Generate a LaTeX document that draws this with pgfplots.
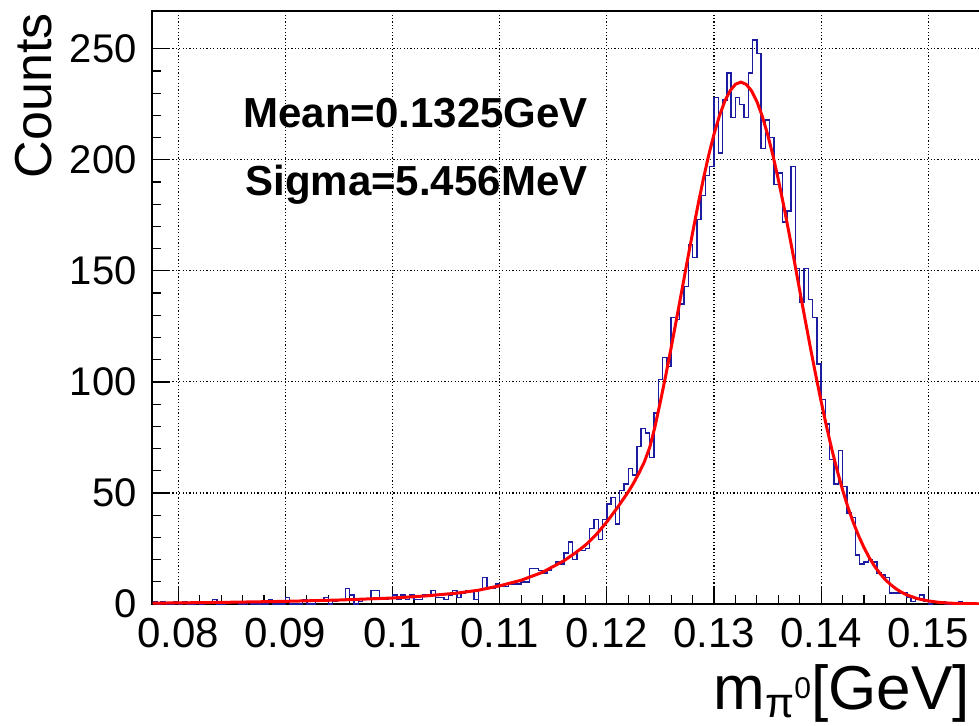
\documentclass[border=0pt]{standalone}
\usepackage{pgfplots}
\pgfplotsset{compat=1.18}
\usepackage{pgfplotstable}
\usepackage{fontspec}
\setmainfont{Liberation Sans}
\definecolor{histblue}{RGB}{28,28,160}
\definecolor{fitred}{RGB}{255,0,0}
\pgfplotstableread{
x y
0.0776 1
0.0780 0
0.0784 1
0.0788 0
0.0792 0
0.0796 1
0.0800 0
0.0804 1
0.0808 0
0.0812 0
0.0816 1
0.0820 0
0.0824 1
0.0828 1
0.0832 2
0.0836 0
0.0840 0
0.0844 1
0.0848 1
0.0852 1
0.0856 0
0.0860 0
0.0864 1
0.0868 0
0.0872 0
0.0876 0
0.0880 0
0.0884 2
0.0888 0
0.0892 0
0.0896 0
0.0900 3
0.0904 0
0.0908 0
0.0912 0
0.0916 2
0.0920 0
0.0924 0
0.0928 2
0.0932 1
0.0936 3
0.0940 0
0.0944 1
0.0948 2
0.0952 2
0.0956 7
0.0960 4
0.0964 0
0.0968 1
0.0972 2
0.0976 2
0.0980 6
0.0984 6
0.0988 2
0.0992 2
0.0996 3
0.1000 4
0.1004 2
0.1008 4
0.1012 2
0.1016 4
0.1020 2
0.1024 2
0.1028 4
0.1032 4
0.1036 6
0.1040 3
0.1044 3
0.1048 2
0.1052 4
0.1056 6
0.1060 3
0.1064 5
0.1068 6
0.1072 6
0.1076 2
0.1080 6
0.1084 12
0.1088 7
0.1092 7
0.1096 9
0.1100 8
0.1104 8
0.1108 9
0.1112 9
0.1116 9
0.1120 10
0.1124 10
0.1128 16
0.1132 16
0.1136 15
0.1140 14
0.1144 15
0.1148 17
0.1152 19
0.1156 18
0.1160 23
0.1164 28
0.1168 20
0.1172 24
0.1176 24
0.1180 25
0.1184 34
0.1188 38
0.1192 29
0.1196 38
0.1200 45
0.1204 48
0.1208 36
0.1212 51
0.1216 54
0.1220 61
0.1224 58
0.1228 71
0.1232 79
0.1236 77
0.1240 66
0.1244 86
0.1248 101
0.1252 111
0.1256 107
0.1260 129
0.1264 128
0.1268 135
0.1272 143
0.1276 162
0.1280 156
0.1284 173
0.1288 184
0.1292 193
0.1296 197
0.1300 228
0.1304 203
0.1308 227
0.1312 239
0.1316 219
0.1320 228
0.1324 225
0.1328 219
0.1332 239
0.1336 254
0.1340 248
0.1344 205
0.1348 218
0.1352 210
0.1356 189
0.1360 194
0.1364 172
0.1368 177
0.1372 197
0.1376 151
0.1380 136
0.1384 151
0.1388 137
0.1392 129
0.1396 108
0.1400 92
0.1404 81
0.1408 65
0.1412 54
0.1416 69
0.1420 53
0.1424 41
0.1428 39
0.1432 22
0.1436 18
0.1440 19
0.1444 20
0.1448 19
0.1452 14
0.1456 13
0.1460 12
0.1464 5
0.1468 5
0.1472 5
0.1476 5
0.1480 3
0.1484 1
0.1488 2
0.1492 4
0.1496 1
0.1500 0
0.1504 1
0.1508 1
0.1512 1
0.1516 0
0.1520 0
0.1524 0
0.1528 1
0.1532 0
0.1536 0
0.1540 0
0.1544 0
0.1548 0
}\hist
\begin{document}
\begin{tikzpicture}
\begin{axis}[name=ax, scale only axis,
  width=414.5pt, height=296.5pt,
  xmin=0.077545, xmax=0.154921, ymin=0, ymax=267,
  xtick={0.08,0.09,0.1,0.11,0.12,0.13,0.14,0.15},
  xticklabels={0.08,0.09,0.1,0.11,0.12,0.13,0.14,0.15},
  ytick={0,50,100,150,200,250},
  yticklabels={0,50,100,150,200,250},
  minor x tick num=4, minor y tick num=4,
  tick align=inside, xtick pos=left, ytick pos=left,
  major tick length=9pt, minor tick length=4.5pt,
  grid=major,
  major grid style={black, line width=0.55pt, dash pattern=on 0.6pt off 1.1pt},
  axis line style={black, line width=0.75pt},
  every tick/.style={black, line width=0.6pt},
  xticklabel style={font=\fontsize{21}{21}\selectfont, inner sep=0pt, anchor=north, yshift=-7pt},
  yticklabel style={font=\fontsize{20}{20}\selectfont, inner sep=0pt, anchor=east, xshift=-7.5pt},
]
\addplot[const plot, histblue, line width=0.7pt] table[x=x, y=y] {\hist};
\addplot[fitred, line width=1.5pt, line join=round] coordinates {
(0.0776,0.4) (0.080,0.5) (0.085,0.8) (0.090,1.2) (0.095,1.8) (0.100,2.7)
(0.103,3.6) (0.106,4.9) (0.108,6.2) (0.110,8.2) (0.112,10.7) (0.114,14.3)
(0.116,19.5) (0.117,22.8) (0.118,26.5) (0.119,31.2) (0.120,37) (0.121,43.5)
(0.122,50.5) (0.1225,54.5) (0.123,59) (0.1235,64) (0.124,70.5) (0.1245,80.0)
(0.125,91.2) (0.1255,103.0) (0.126,115.4) (0.1265,128.2) (0.127,141.2)
(0.1275,154.3) (0.128,167.1) (0.1285,179.5) (0.129,191.2) (0.1295,202.0)
(0.130,211.5) (0.1305,219.7) (0.131,226.3) (0.1315,231.1) (0.132,234.0)
(0.1325,235.0) (0.133,234.0) (0.1335,231.1) (0.134,226.3) (0.1345,219.7)
(0.135,211.5) (0.1355,202.0) (0.136,191.2) (0.1365,179.5) (0.137,167.1)
(0.1375,154.3) (0.138,141.2) (0.1385,128.2) (0.139,115.4) (0.1395,103.0)
(0.140,91.2) (0.1405,80.0) (0.141,69.6) (0.1415,60.1) (0.142,51.4)
(0.1425,43.6) (0.143,36.7) (0.1435,30.7) (0.144,25.4) (0.1445,20.8)
(0.145,16.9) (0.1455,13.7) (0.146,10.9) (0.1465,8.7) (0.147,6.8)
(0.1475,5.3) (0.148,4.1) (0.149,2.4) (0.150,1.4) (0.151,0.74)
(0.152,0.39) (0.153,0.2) (0.1549,0.1)
};
\end{axis}
\node[anchor=base west, inner sep=0pt, font=\bfseries\fontsize{21}{21}\selectfont]
  at ([shift={(45.5pt,-58pt)}]ax.north west) {Mean=0.1325GeV};
\node[anchor=base west, inner sep=0pt, font=\bfseries\fontsize{21}{21}\selectfont]
  at ([shift={(46.5pt,-92pt)}]ax.north west) {Sigma=5.456MeV};
\node[rotate=90, anchor=base east, inner sep=0pt, font=\fontsize{26}{26}\selectfont]
  at ([shift={(-50pt,-1pt)}]ax.north west) {Counts};
\node[anchor=base east, inner sep=0pt, font=\fontsize{31}{31}\selectfont]
  at ([shift={(409pt,-52.5pt)}]ax.south west)
  {m\raisebox{-4pt}{\fontsize{21}{21}\selectfont π\raisebox{9.5pt}{\fontsize{15}{15}\selectfont 0}}[GeV]};
\pgfresetboundingbox
\path[use as bounding box] ([shift={(-76pt,-60.5pt)}]ax.south west) rectangle ([shift={(-1pt,5.5pt)}]ax.north east);
\end{tikzpicture}
\end{document}
